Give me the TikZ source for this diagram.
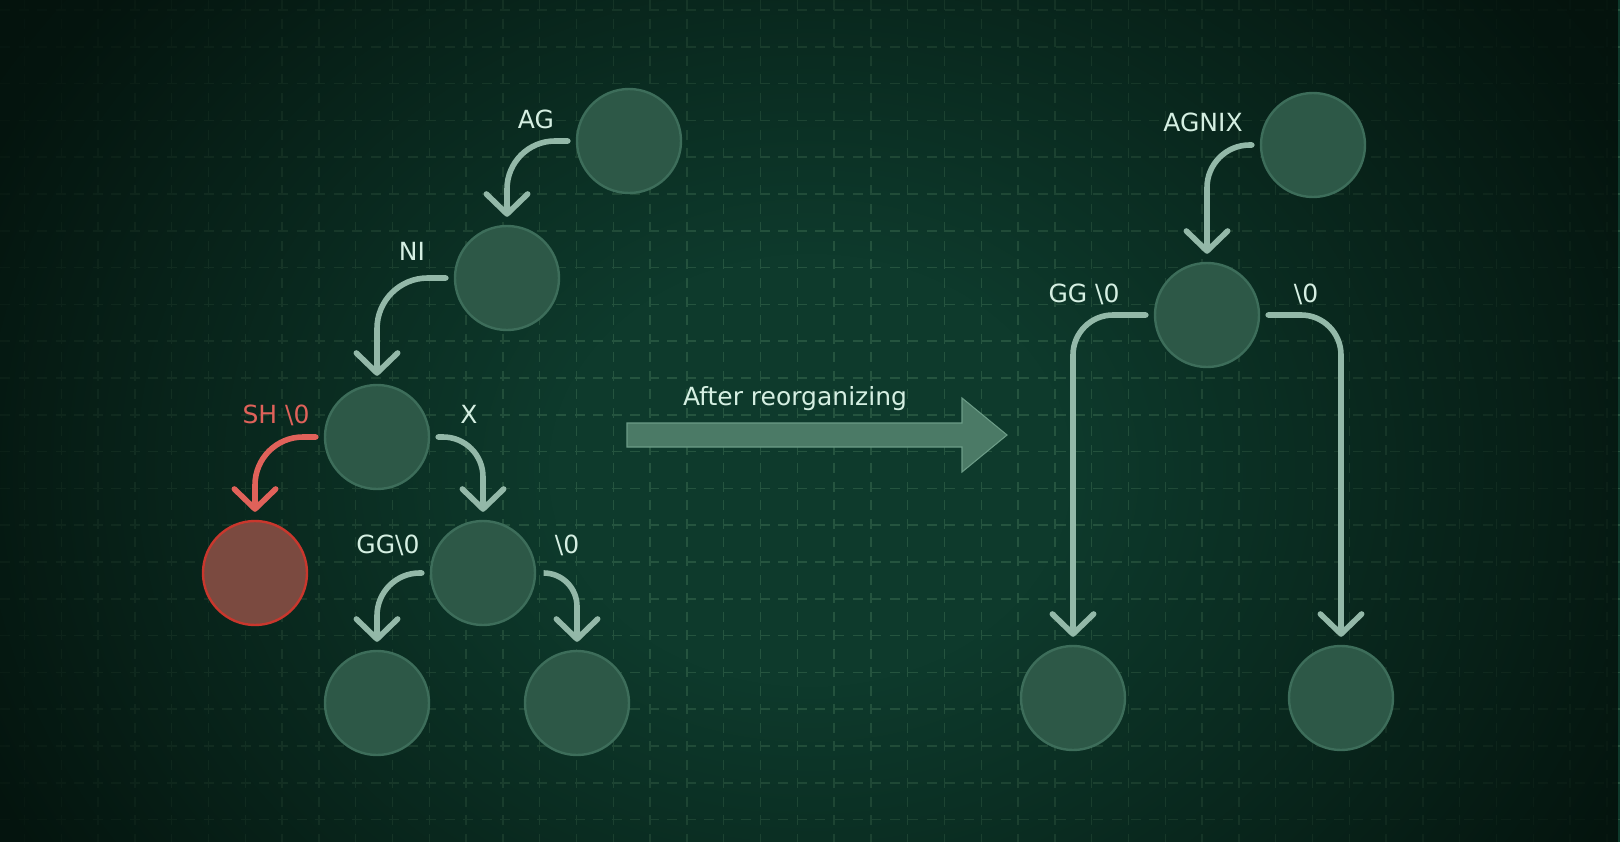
\documentclass[tikz,border=0pt]{standalone}
\usepackage{fontspec}
\setmainfont{DejaVu Sans}
\usetikzlibrary{positioning, arrows.meta, fadings}
\definecolor{bgmid}{HTML}{0E3A2C}
\definecolor{bgedge}{HTML}{030F0A}
\definecolor{gridcol}{HTML}{25543F}
\definecolor{nodefill}{HTML}{2D5847}
\definecolor{noderim}{HTML}{3D6D5A}
\definecolor{badfill}{HTML}{7B4A40}
\definecolor{badrim}{HTML}{C9372D}
\definecolor{linkcol}{HTML}{93B8A8}
\definecolor{badcol}{HTML}{E0625A}
\definecolor{labelcol}{HTML}{D5EFE2}
\definecolor{arrowfill}{HTML}{4B7A66}
\definecolor{arrowrim}{HTML}{6C9C87}
\colorlet{vigmid}{white!88!black}
\pgfdeclareradialshading{vigshade}{\pgfpointorigin}{color(0bp)=(black); color(8bp)=(black); color(28bp)=(vigmid); color(50bp)=(white)}
\pgfdeclarefading{vignette}{\pgfuseshading{vigshade}}
\tikzstyle{every node}=[font=\fontsize{18.75}{22}\selectfont]
\tikzstyle{treenode}=[circle, minimum size=78pt, inner sep=0pt, fill=nodefill, draw=noderim, line width=1.8pt]
\tikzstyle{badnode}=[treenode, fill=badfill, draw=badrim]
\tikzstyle{link}=[->, color=linkcol, line width=4.2pt, line cap=round, shorten <=6pt, shorten >=6pt, rounded corners=30pt]
\tikzstyle{badlink}=[link, color=badcol]
\tikzstyle{lbl}=[text=labelcol, inner sep=0pt, anchor=base]
\tikzstyle{badlbl}=[lbl, text=badcol]
\tikzstyle{gridline}=[gridcol, line width=1.1pt, dash pattern=on 7.5pt off 6.4pt]

\begin{document}
\begin{tikzpicture}[x=0.75pt, y=-0.75pt, >={Straight Barb[round, length=15pt, width=31pt]}]
    \path[use as bounding box] (0,0) rectangle (1620,842);
    % background and grid
    \begin{scope}
        \clip (0,0) rectangle (1620,842);
        \fill[bgmid] (0,0) rectangle (1620,842);
        \foreach \gx in {24.5,61.3,...,1620} \draw[gridline] (\gx,0) -- (\gx,842);
        \foreach \gy in {10,46.8,...,842} \draw[gridline] (0,\gy) -- (1620,\gy);
        \fill[bgedge, path fading=vignette] (0,-200) rectangle (1620,1140);
    \end{scope}

    % before
    \node[treenode] (ag) at (629,141) {};
    \node[treenode] (ni) at (507,278) {};
    \node[treenode] (shx) at (377,437) {};
    \node[badnode] (sh) at (255,573) {};
    \node[treenode] (x) at (483,573) {};
    \node[treenode] (gg) at (377,703) {};
    \node[treenode] (nul) at (577,703) {};
    \draw[link, rounded corners=36pt] (ag) -| (ni);
    \draw[link, rounded corners=38pt] (ni) -| (shx);
    \draw[badlink, rounded corners=36pt] (shx) -| (sh);
    \draw[link, rounded corners=30pt] (shx) -| (x);
    \draw[link, rounded corners=32pt] (x) -| (gg);
    \draw[link, rounded corners=25pt] (x) -| (nul);
    \node[lbl] (lag) at (536,128) {AG};
    \node[lbl] (lni) at (412,260) {NI};
    \node[badlbl] (lsh) at (276,423) {SH \textbackslash 0};
    \node[lbl] (lx) at (469,423) {X};
    \node[lbl] (lgg) at (388,553) {GG\textbackslash 0};
    \node[lbl] (lnul) at (567,553) {\textbackslash 0};

    % reorganizing arrow
    \filldraw[fill=arrowfill, draw=arrowrim, line width=0.8pt] (627,423) -- (962,423) -- (962,398) -- (1007,435) -- (962,472) -- (962,447) -- (627,447) -- cycle;
    \node[lbl] (lafter) at (795,405) {After reorganizing};

    % after
    \node[treenode] (agnix) at (1313,145) {};
    \node[treenode] (mid) at (1207,315) {};
    \node[treenode] (gg2) at (1073,698) {};
    \node[treenode] (nul2) at (1341,698) {};
    \draw[link, rounded corners=32pt] (agnix) -| (mid);
    \draw[link] (mid) -| (gg2);
    \draw[link] (mid) -| (nul2);
    \node[lbl] (lagnix) at (1203,132) {AGNIX};
    \node[lbl] (lgg2) at (1084,302) {GG \textbackslash 0};
    \node[lbl] (lnul2) at (1306,302) {\textbackslash 0};
\end{tikzpicture}
\end{document}
